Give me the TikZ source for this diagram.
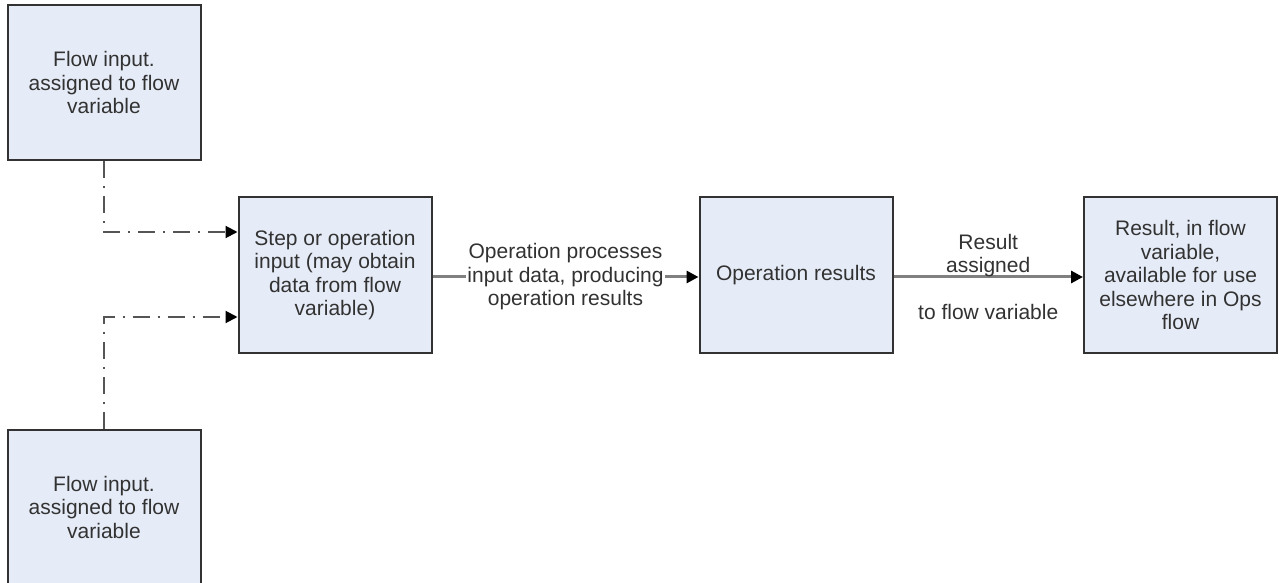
\documentclass[tikz,border=0pt]{standalone}
\usepackage{fontspec}
\setmainfont{Liberation Sans}
\usepackage{tikz}
\usetikzlibrary{arrows.meta}

\definecolor{relleno}{RGB}{230,236,247}
\definecolor{borde}{RGB}{50,50,50}
\definecolor{linea}{RGB}{128,128,128}
\definecolor{guion}{RGB}{85,85,85}
\definecolor{texto}{RGB}{50,50,50}

\tikzset{
  caja/.style={draw=borde, fill=relleno, line width=2pt, inner sep=0pt,
    minimum width=193pt, minimum height=155pt, align=center, text=texto,
    font=\fontsize{21}{23.5}\selectfont},
  flecha/.style={draw=linea, line width=3pt,
    -{Triangle[length=12pt,width=12pt,color=black]}},
  punteada/.style={flecha, draw=guion, line width=2pt,
    dash pattern=on 17pt off 8pt on 2pt off 8pt},
  etiqueta/.style={align=center, text=texto, inner sep=1pt,
    font=\fontsize{21}{23.5}\selectfont}
}

\begin{document}
\begin{tikzpicture}[x=1pt,y=1pt]
            % Marco de la imagen
            \useasboundingbox (0,0) rectangle (1283,582);

            % Entradas de flujo a la izquierda
            \node[caja] (entradaSup) at (104,499.5) {Flow input.\\assigned to flow\\variable};
            \node[caja] (entradaInf) at (104,75) {Flow input.\\assigned to flow\\variable};

            % Cajas de la fila central
            \node[caja] (paso) at (335,307) {Step or operation\\input (may obtain\\data from flow\\variable)};
            \node[caja] (resultados) at (796,307) {Operation results};
            \node[caja] (resultado) at (1180.5,307) {Result, in flow\\variable,\\available for use\\elsewhere in Ops\\flow};

            % Conectores punteados desde las entradas
            \draw[punteada] (entradaSup.south) |- ([yshift=43pt]paso.west);
            \draw[punteada] (entradaInf.north) |- ([yshift=-42pt]paso.west);

            % Flechas de la fila central
            \draw[flecha] ([yshift=-2pt]paso.east) -- node[etiqueta, fill=white]
              {Operation processes\\input data, producing\\operation results} ([yshift=-2pt]resultados.west);
            \draw[flecha] ([yshift=-2pt]resultados.east) -- node[etiqueta]
              {Result\\assigned\\[23.5pt]to flow variable} ([yshift=-2pt]resultado.west);
        \end{tikzpicture}
\end{document}
